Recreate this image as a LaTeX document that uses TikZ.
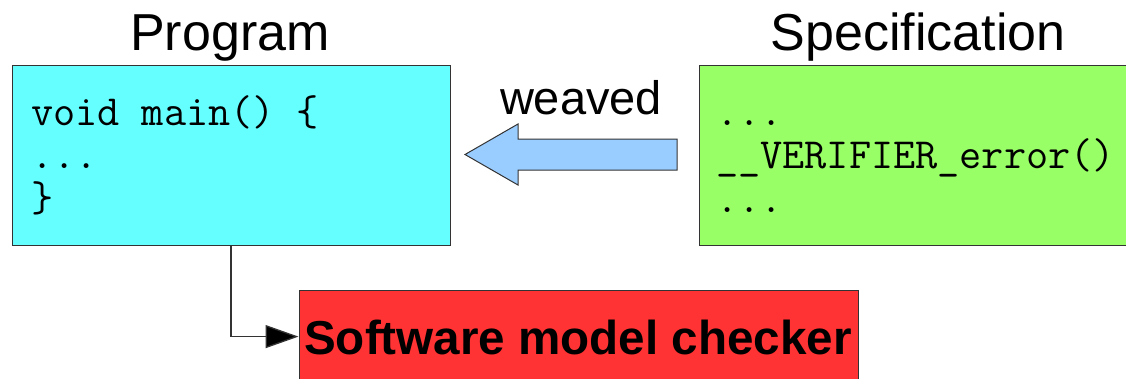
\documentclass[tikz,border=0pt]{standalone}
\usepackage{fontspec}
\setmainfont{Liberation Sans}
\usetikzlibrary{arrows.meta}

\definecolor{progfill}{HTML}{66FFFF}
\definecolor{specfill}{HTML}{99FF66}
\definecolor{checkfill}{HTML}{FF3333}
\definecolor{weavefill}{HTML}{99CCFF}
\definecolor{edge}{HTML}{333333}

\tikzset{
  box/.style={draw=edge, line width=1.2pt, inner sep=0pt, anchor=north west},
  title/.style={anchor=base, inner sep=0pt, font=\fontsize{52}{60}\selectfont},
  code/.style={anchor=base west, inner sep=0pt, font=\ttfamily\fontsize{43}{48}\selectfont},
  link/.style={draw=edge, line width=1.3pt, -{Triangle[length=33pt, width=23pt, fill=black]}}
}

\begin{document}
\begin{tikzpicture}[x=1pt, y=-1pt]
  \useasboundingbox (0,0) rectangle (1126,378);

  % titles
  \node[title] (progtitle) at (230,50) {Program};
  \node[title] (spectitle) at (918,50) {Specification};

  % program box
  \node[box, fill=progfill, minimum width=438pt, minimum height=180pt] (prog) at (11.5,64.5) {};
  \node[code] (p1) at (31,125) {void main() \{};
  \node[code] (p2) at (31,168) {...};
  \node[code] (p3) at (31,211) {\}};

  % specification box (runs off the right edge)
  \node[box, fill=specfill, minimum width=440pt, minimum height=180pt] (spec) at (699,64.5) {};
  \node[code] (s1) at (716,125) {...};
  \node[code] (s2) at (716,168) {\_\_VERIFIER\_error()};
  \node[code] (s3) at (716,212) {...};

  % weaving arrow
  \node[anchor=base, inner sep=0pt, font=\fontsize{47}{54}\selectfont] (weave) at (581,114) {weaved};
  \draw[draw=edge, line width=1pt, fill=weavefill]
    (465,154.5) -- (518,124) -- (518,139) -- (677,139) -- (677,170) -- (518,170) -- (518,185) -- cycle;

  % model checker
  \node[box, fill=checkfill, minimum width=559pt, minimum height=92pt] (smc) at (298.5,290) {};
  \node[anchor=base, inner sep=0pt, font=\bfseries\fontsize{47.6}{54}\selectfont] (smclabel) at (578,354) {Software model checker};

  \draw[link] (prog.south) |- (smc.west);
\end{tikzpicture}
\end{document}
